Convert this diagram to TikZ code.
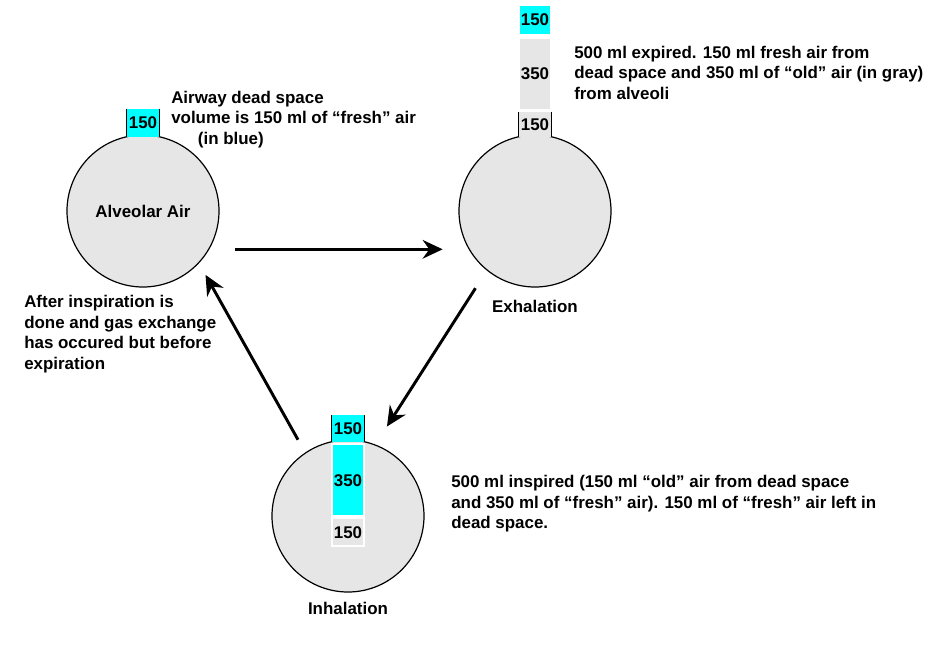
\documentclass[tikz,border=0pt]{standalone}
\usepackage{xcolor}
\usepackage{fontspec}
\setmainfont{Liberation Sans}
\usepackage{tikz}
\usetikzlibrary{arrows.meta, positioning}

\definecolor{deadblue}{RGB}{0,255,255}
\definecolor{lunggray}{RGB}{230,230,230}
\newcommand{\diagfont}{\fontsize{12.7}{15.5}\selectfont\bfseries}

\begin{document}
\begin{tikzpicture}[
  x=0.75pt, y=-0.75pt,
  font=\diagfont,
  lung/.style={circle, draw=black, line width=0.9pt, fill=lunggray,
               minimum size=114pt, inner sep=0pt},
  tube/.style={rectangle, minimum width=24pt, inner sep=0pt},
  freshtube/.style={tube, fill=deadblue},
  oldtube/.style={tube, fill=lunggray},
  slug/.style={rectangle, draw=white, line width=1.5pt, minimum width=24pt, inner sep=0pt},
  freshslug/.style={slug, fill=deadblue},
  oldslug/.style={slug, fill=lunggray},
  wall/.style={line width=0.9pt},
  note/.style={anchor=north west, align=left, inner sep=0pt},
  flaskname/.style={inner sep=0pt},
  arrow/.style={-{Stealth[length=15pt, width=14pt, inset=5pt]}, line width=2.2pt, color=black}
]
\useasboundingbox (0,0) rectangle (943,647);

\node[lung] (alv) at (143,211) {Alveolar Air};
\node[freshtube, minimum height=21pt, above=-2.25pt of alv] (alvtube) {150};
\draw[wall] (alvtube.north west) -- (alvtube.south west);
\draw[wall] (alvtube.north east) -- (alvtube.south east);

\node[lung] (exh) at (535,211) {};
\node[oldtube, minimum height=18.75pt, above=-2.25pt of exh] (exhtube) {150};
\draw[wall] (exhtube.north west) -- (exhtube.south west);
\draw[wall] (exhtube.north east) -- (exhtube.south east);
\node[oldslug, minimum height=54pt, above=1pt of exhtube] (exhold) {350};
\node[freshslug, minimum height=22.5pt, above=0.75pt of exhold] (exhfresh) {150};
\node[flaskname, below=9pt of exh] (exhname) {Exhalation};

\node[lung] (inh) at (348,516) {};
\node[freshtube, minimum height=20.25pt, above=-2.25pt of inh] (inhtube) {150};
\draw[wall] (inhtube.north west) -- (inhtube.south west);
\draw[wall] (inhtube.north east) -- (inhtube.south east);
\node[freshslug, minimum height=54pt, below=0.75pt of inhtube] (inhfresh) {350};
\node[oldslug, minimum height=21pt, below=0pt of inhfresh] (inhold) {150};
\node[flaskname, below=6.75pt of inh] (inhname) {Inhalation};

\node[note] (alvnote) at (171,90.5) {Airway dead space\\
  volume is 150 ml of “fresh” air\\
  \hspace{20pt}(in blue)};
\node[note] (exhnote) at (574,45.5) {500 ml expired. 150 ml fresh air from\\
  dead space and 350 ml of “old” air (in gray)\\
  from alveoli};
\node[note] (inhnote) at (451,475) {500 ml inspired (150 ml “old” air from dead space\\
  and 350 ml of “fresh” air). 150 ml of “fresh” air left in\\
  dead space.};
\node[note] (afternote) at (24,295) {After inspiration is\\
  done and gas exchange\\
  has occured but before\\
  expiration};

\draw[arrow, shorten <=19.5pt, shorten >=19.5pt] (alv.-30) -- (exh.210);
\draw[arrow, shorten <=15.75pt, shorten >=16pt] (exh.231) -- (inh.69);
\draw[arrow, shorten <=11pt, shorten >=10pt] (inh.124) -- (alv.-43);

\end{tikzpicture}
\end{document}
